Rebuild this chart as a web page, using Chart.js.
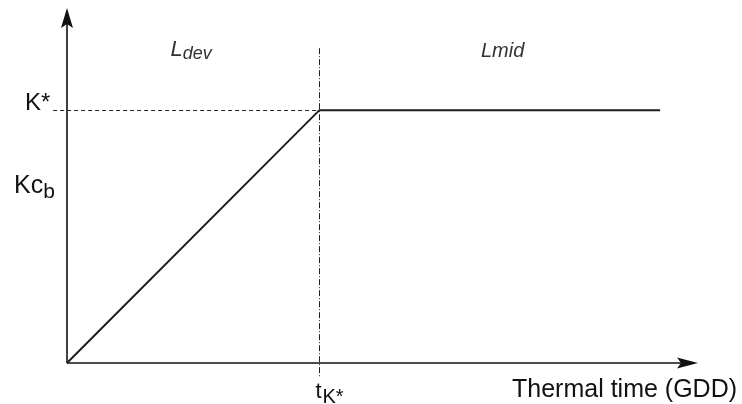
<!DOCTYPE html>
<html>
<head>
<meta charset="utf-8">
<script src="https://cdn.jsdelivr.net/npm/chart.js@4/dist/chart.umd.min.js"></script>
<style>
  html, body { margin: 0; padding: 0; background: #fff; }
  #wrap { width: 742px; height: 404px; }
</style>
</head>
<body>
<div id="wrap"><canvas id="c" width="742" height="404"></canvas></div>
<script>
// Thermal time (normalized so that tK* = 1) and basal crop coefficient (normalized so that K* = 1)
const thermalTime = [0, 1, 2.35];
const kcbValues = [0, 1, 1];
const tKStar = 1;
const kStar = 1;
const kcbLabelValue = 0.7;
const xRange = [0, 2.5];
const yRange = [0, 1.4];
const phaseLabels = [
  { main: 'L', sub: 'dev', x: 0.41, y: 1.215 },
  { main: 'Lmid', sub: '', x: 1.64, y: 1.21 }
];
const axisTitleX = 'Thermal time (GDD)';
const axisTitleY = ['Kc', 'b'];
const yTickLabel = 'K*';
const xTickLabel = ['t', 'K*'];

const FONT = '"Liberation Sans", Arial, sans-serif';

function arrow(ctx, tipX, tipY, dir) {
  ctx.beginPath();
  if (dir === 'up') {
    ctx.moveTo(tipX, tipY);
    ctx.lineTo(tipX + 6, tipY + 20);
    ctx.lineTo(tipX, tipY + 16);
    ctx.lineTo(tipX - 6, tipY + 20);
  } else {
    ctx.moveTo(tipX, tipY);
    ctx.lineTo(tipX - 21, tipY + 5.5);
    ctx.lineTo(tipX - 17, tipY);
    ctx.lineTo(tipX - 21, tipY - 5.5);
  }
  ctx.closePath();
  ctx.fill();
}

const diagramPlugin = {
  id: 'diagram',
  beforeDatasetsDraw(chart) {
    const ctx = chart.ctx;
    const xs = chart.scales.x, ys = chart.scales.y;
    const x0 = xs.getPixelForValue(0), y0 = ys.getPixelForValue(0);
    const xk = xs.getPixelForValue(tKStar), yk = ys.getPixelForValue(kStar);
    ctx.save();
    ctx.strokeStyle = '#222';
    ctx.lineWidth = 1;
    ctx.setLineDash([4, 3]);
    ctx.beginPath();
    ctx.moveTo(xs.getPixelForValue(-0.055), Math.round(yk) + 0.5);
    ctx.lineTo(xk, Math.round(yk) + 0.5);
    ctx.stroke();
    ctx.setLineDash([6, 2, 1, 2]);
    ctx.beginPath();
    ctx.moveTo(Math.round(xk) + 0.5, ys.getPixelForValue(1.245));
    ctx.lineTo(Math.round(xk) + 0.5, ys.getPixelForValue(-0.055));
    ctx.stroke();
    ctx.setLineDash([]);
    ctx.strokeStyle = '#111';
    ctx.fillStyle = '#111';
    ctx.lineWidth = 1.6;
    ctx.beginPath();
    ctx.moveTo(x0, y0);
    ctx.lineTo(x0, ys.getPixelForValue(yRange[1]) + 10);
    ctx.stroke();
    ctx.beginPath();
    ctx.moveTo(x0, y0);
    ctx.lineTo(xs.getPixelForValue(xRange[1]) - 10, y0);
    ctx.stroke();
    arrow(ctx, x0, ys.getPixelForValue(yRange[1]) - 1, 'up');
    arrow(ctx, xs.getPixelForValue(xRange[1]), y0, 'right');
    ctx.restore();
  },
  afterDraw(chart) {
    const ctx = chart.ctx;
    const xs = chart.scales.x, ys = chart.scales.y;
    const x0 = xs.getPixelForValue(0), y0 = ys.getPixelForValue(0);
    const xk = xs.getPixelForValue(tKStar), yk = ys.getPixelForValue(kStar);
    ctx.save();
    ctx.fillStyle = '#111';
    ctx.textBaseline = 'alphabetic';
    ctx.textAlign = 'left';
    // K* tick label
    ctx.font = '24px ' + FONT;
    ctx.fillText(yTickLabel, x0 - 42, yk);
    // Kcb axis title
    const ky = ys.getPixelForValue(kcbLabelValue) + 7;
    ctx.font = '25px ' + FONT;
    ctx.fillText(axisTitleY[0], x0 - 53, ky);
    let w = ctx.measureText(axisTitleY[0]).width;
    ctx.font = '21px ' + FONT;
    ctx.fillText(axisTitleY[1], x0 - 53 + w, ky + 5);
    // tK* tick label
    ctx.font = '22px ' + FONT;
    ctx.fillText(xTickLabel[0], xk - 4, y0 + 35);
    w = ctx.measureText(xTickLabel[0]).width;
    ctx.font = '20px ' + FONT;
    ctx.fillText(xTickLabel[1], xk - 3 + w, y0 + 40);
    // x axis title
    ctx.font = '25px ' + FONT;
    ctx.fillText(axisTitleX, 512, y0 + 34);
    // phase labels
    ctx.fillStyle = '#333';
    phaseLabels.forEach(p => {
      const px = xs.getPixelForValue(p.x), py = ys.getPixelForValue(p.y);
      if (p.sub) {
        ctx.font = 'italic 22px ' + FONT;
        ctx.fillText(p.main, px, py);
        const mw = ctx.measureText(p.main).width;
        ctx.font = 'italic 18px ' + FONT;
        ctx.fillText(p.sub, px + mw, py + 3);
      } else {
        ctx.font = 'italic 20px ' + FONT;
        ctx.fillText(p.main, px, py);
      }
    });
    ctx.restore();
  }
};

new Chart(document.getElementById('c'), {
  type: 'scatter',
  data: {
    datasets: [{
      data: thermalTime.map((t, i) => ({ x: t, y: kcbValues[i] })),
      showLine: true,
      borderColor: '#1e1e1e',
      borderWidth: 2,
      pointRadius: 0,
      tension: 0,
      clip: false
    }]
  },
  options: {
    responsive: false,
    animation: false,
    layout: { padding: { left: 67, right: 44, top: 9, bottom: 41 } },
    plugins: { legend: { display: false }, tooltip: { enabled: false } },
    scales: {
      x: { type: 'linear', min: xRange[0], max: xRange[1], display: false },
      y: { type: 'linear', min: yRange[0], max: yRange[1], display: false }
    }
  },
  plugins: [diagramPlugin]
});
</script>
</body>
</html>
